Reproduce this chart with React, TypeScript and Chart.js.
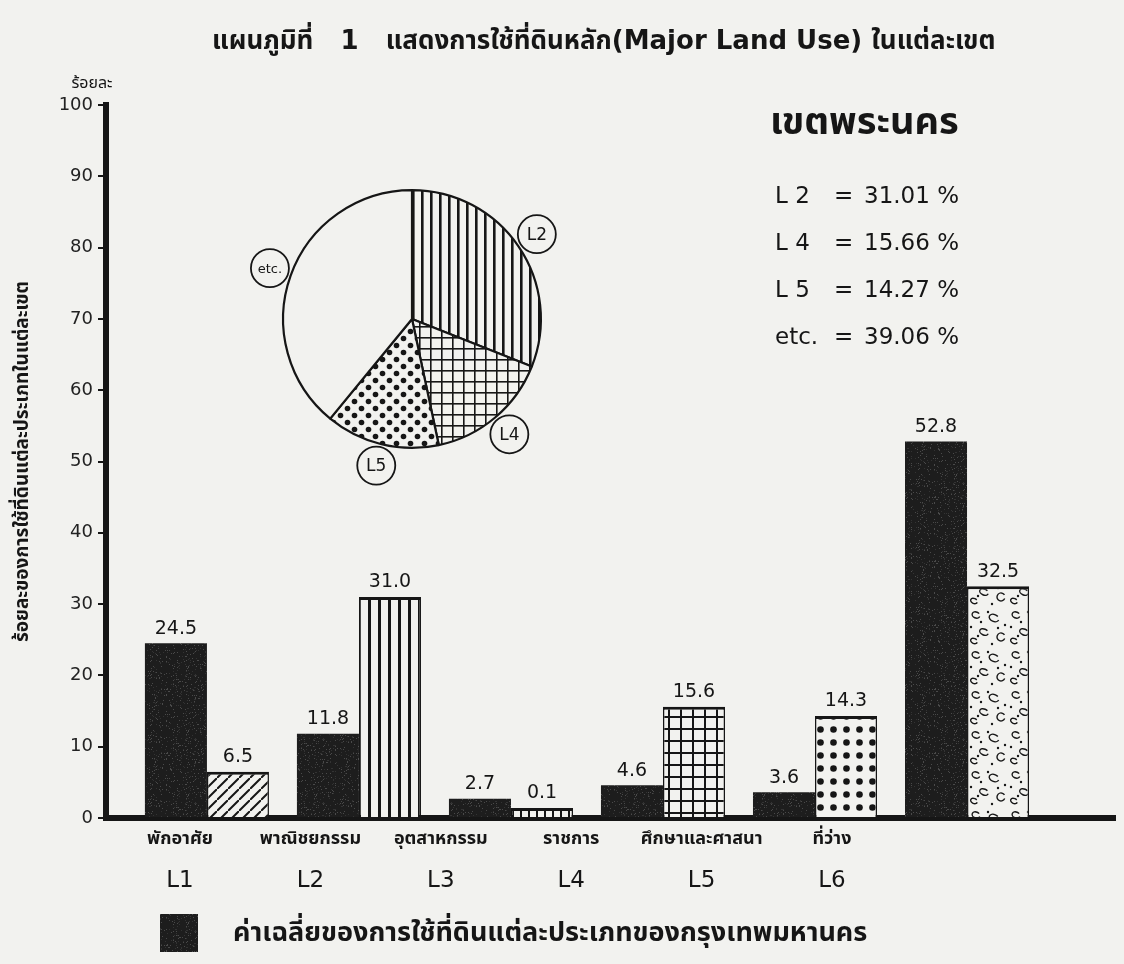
import React, { useEffect, useRef } from 'react';
import { Chart, registerables } from 'chart.js';

Chart.register(...registerables);

// ---------- data ----------
const categories = ['พักอาศัย', 'พาณิชยกรรม', 'อุตสาหกรรม', 'ราชการ', 'ศึกษาและศาสนา', 'ที่ว่าง'];
const codes = ['L1', 'L2', 'L3', 'L4', 'L5', 'L6'];
const bangkokAverage = [24.5, 11.8, 2.7, 4.6, 3.6, 52.8];
const phraNakhon = [6.5, 31.0, 0.1, 15.6, 14.3, 32.5];
const pieLabels = ['L2', 'L4', 'L5', 'etc.'];
const pieValues = [31.01, 15.66, 14.27, 39.06];

const titleText = 'แผนภูมิที่   1   แสดงการใช้ที่ดินหลัก(Major Land Use) ในแต่ละเขต';
const districtName = 'เขตพระนคร';
const yUnit = 'ร้อยละ';
const yTitle = 'ร้อยละของการใช้ที่ดินแต่ละประเภทในแต่ละเขต';
const legendText = 'ค่าเฉลี่ยของการใช้ที่ดินแต่ละประเภทของกรุงเทพมหานคร';

// ---------- style ----------
const INK = '#161616';
const PAPER = '#f2f2ef';
const FONT = "'DejaVu Sans', 'Noto Sans Thai', 'Noto Sans', sans-serif";

function tile(w: number, h: number, draw: (g: CanvasRenderingContext2D) => void, bg = PAPER) {
  const c = document.createElement('canvas');
  c.width = w;
  c.height = h;
  const g = c.getContext('2d')!;
  g.fillStyle = bg;
  g.fillRect(0, 0, w, h);
  g.strokeStyle = INK;
  g.fillStyle = INK;
  draw(g);
  return g.createPattern(c, 'repeat')!;
}

function makePatterns() {
  let seed = 12345;
  const lcg = () => {
    seed = (seed * 1103515245 + 12345) % 2147483648;
    return seed / 2147483648;
  };
  const dark = tile(64, 64, (g) => {
    for (let i = 0; i < 420; i++) {
      const x = Math.floor(lcg() * 64);
      const y = Math.floor(lcg() * 64);
      g.fillStyle = lcg() > 0.5 ? '#4a4a4a' : '#333333';
      g.fillRect(x, y, 1, 1);
    }
  }, '#1d1d1d');
  const hatch = tile(11, 11, (g) => {
    g.lineWidth = 2;
    g.beginPath();
    g.moveTo(-2, 13); g.lineTo(13, -2);
    g.moveTo(-8, 7); g.lineTo(7, -8);
    g.moveTo(4, 19); g.lineTo(19, 4);
    g.stroke();
  });
  const vstripe = tile(10, 10, (g) => { g.fillRect(0, 0, 3, 10); });
  const vstripePie = tile(9, 9, (g) => { g.fillRect(0, 0, 2.6, 9); });
  const ladder = tile(8, 8, (g) => { g.fillRect(0, 0, 2, 8); });
  const grid = tile(12, 12, (g) => { g.fillRect(0, 0, 12, 2); g.fillRect(0, 0, 2, 12); });
  const gridPie = tile(11, 11, (g) => { g.fillRect(0, 0, 11, 1.6); g.fillRect(0, 0, 1.6, 11); });
  const dots = tile(13, 13, (g) => { g.beginPath(); g.arc(6.5, 6.5, 3.3, 0, Math.PI * 2); g.fill(); });
  const dotsPie = tile(14, 14, (g) => {
    g.beginPath(); g.arc(3.5, 3.5, 2.8, 0, Math.PI * 2); g.fill();
    g.beginPath(); g.arc(10.5, 10.5, 2.8, 0, Math.PI * 2); g.fill();
  });
  const leopard = tile(40, 40, (g) => {
    g.lineWidth = 1.4;
    const rings = [[8, 7, 4, 3], [26, 10, 5, 3.5], [16, 24, 4.5, 3], [33, 29, 4, 4], [6, 33, 3.5, 2.5]];
    rings.forEach(([x, y, rx, ry]) => {
      g.beginPath(); g.ellipse(x, y, rx, ry, 0.4, 0, Math.PI * 1.7); g.stroke();
    });
    const ds = [[20, 4], [37, 17], [3, 19], [24, 36], [13, 14], [30, 20], [10, 28]];
    ds.forEach(([x, y]) => { g.beginPath(); g.arc(x, y, 1.2, 0, Math.PI * 2); g.fill(); });
  });
  return { dark, hatch, vstripe, vstripePie, ladder, grid, gridPie, dots, dotsPie, leopard };
}

const unitTicks = (scale: any) => {
  scale.ticks = codes.map((_, i) => ({ value: i + 1 }));
};

export default function App() {
  const barRef = useRef<HTMLCanvasElement>(null);
  const pieRef = useRef<HTMLCanvasElement>(null);

  useEffect(() => {
    document.body.style.background = PAPER;
    Chart.defaults.font.family = FONT;
    const P = makePatterns();

    const backgroundPlugin = {
      id: 'paper',
      beforeDraw(chart: any) {
        const { ctx, width, height } = chart;
        ctx.save();
        ctx.fillStyle = PAPER;
        ctx.fillRect(0, 0, width, height);
        ctx.restore();
      },
    };

    const valueLabels = {
      id: 'valueLabels',
      afterDatasetsDraw(chart: any) {
        const ctx = chart.ctx;
        ctx.save();
        ctx.fillStyle = INK;
        ctx.font = `19px ${FONT}`;
        ctx.textAlign = 'center';
        ctx.textBaseline = 'bottom';
        chart.data.datasets.forEach((ds: any, di: number) => {
          const meta = chart.getDatasetMeta(di);
          meta.data.forEach((el: any, i: number) => {
            const v = ds.data[i].y;
            ctx.fillText(v.toFixed(1), el.x, el.y - 5);
          });
        });
        ctx.restore();
      },
    };

    const annotations = {
      id: 'annotations',
      afterDraw(chart: any) {
        const ctx = chart.ctx;
        ctx.save();
        ctx.fillStyle = INK;
        ctx.textBaseline = 'middle';
        // title
        ctx.textAlign = 'left';
        ctx.font = `bold 26px ${FONT}`;
        ctx.fillText(titleText, 204, 34);
        // y unit
        ctx.textAlign = 'center';
        ctx.font = `16px ${FONT}`;
        ctx.fillText(yUnit, 84, 76);
        // district
        ctx.textAlign = 'left';
        ctx.font = `bold 38px ${FONT}`;
        ctx.fillText(districtName, 762, 116);
        // pie stats
        ctx.font = `23px ${FONT}`;
        pieLabels.forEach((lab, i) => {
          const y = 189 + i * 47;
          const shown = lab.startsWith('L') ? lab.replace(/^L/, 'L ') : lab;
          ctx.fillText(shown, 767, y);
          ctx.fillText('=', 826, y);
          ctx.fillText(`${pieValues[i].toFixed(2)} %`, 856, y);
        });
        // legend (first dataset only)
        ctx.fillStyle = P.dark;
        ctx.fillRect(152, 906, 38, 38);
        ctx.fillStyle = INK;
        ctx.font = `bold 27px ${FONT}`;
        ctx.fillText(chart.data.datasets[0].label, 225, 926);
        ctx.restore();
      },
    };

    const labelAxis = (weight: number, size: number, bold: boolean, names: string[]) => ({
      type: 'linear',
      position: 'bottom',
      min: 0.4325,
      max: 8.178,
      offset: false,
      weight,
      display: true,
      grid: { display: false, offset: false },
      border: { display: false },
      ticks: {
        autoSkip: false,
        maxRotation: 0,
        color: INK,
        font: { size, weight: bold ? 'bold' : 'normal' },
        callback: (v: any) => names[Math.round(v) - 1] ?? '',
      },
      afterBuildTicks: unitTicks,
      afterFit: (s: any) => { s.height = 38; },
    });

    const bar = new Chart(barRef.current!, {
      type: 'bar',
      data: {
        datasets: [
          {
            label: legendText,
            data: bangkokAverage.map((v, i) => ({ x: i + 1, y: v })),
            backgroundColor: P.dark,
            borderWidth: 0,
            categoryPercentage: 0.816,
            barPercentage: 1,
          },
          {
            label: districtName,
            data: phraNakhon.map((v, i) => ({ x: i + 1, y: v })),
            backgroundColor: [P.hatch, P.vstripe, P.ladder, P.grid, P.dots, P.leopard],
            borderColor: INK,
            borderWidth: { top: 3, left: 1.5, right: 1.5, bottom: 0 },
            borderSkipped: 'bottom',
            minBarLength: 10,
            categoryPercentage: 0.816,
            barPercentage: 1,
          },
        ],
      },
      options: {
        animation: false,
        responsive: false,
        layout: { padding: { top: 97, right: 0, bottom: 62, left: 0 } },
        plugins: {
          legend: { display: false },
          title: { display: false },
          tooltip: { enabled: false },
        },
        scales: {
          x: {
            type: 'linear',
            position: 'bottom',
            min: 0.336,
            max: 6.98,
            offset: false,
            weight: 0,
            grid: { display: false, offset: false },
            border: { display: true, width: 6, color: INK },
            ticks: { display: false },
            afterBuildTicks: unitTicks,
            afterFit: (s: any) => { s.height = 0; },
          },
          xName: labelAxis(1, 18, true, categories),
          xCode: labelAxis(2, 23, false, codes),
          y: {
            min: 0,
            max: 100,
            ticks: { stepSize: 10, color: '#222', font: { size: 18 }, padding: 5 },
            grid: { drawOnChartArea: false, drawTicks: true, tickLength: 8, color: INK, lineWidth: 2 },
            border: { display: true, width: 6, color: INK },
            title: { display: true, text: yTitle, color: INK, font: { size: 19, weight: 'bold' } },
            afterFit: (s: any) => { s.width = 98; },
          },
        },
      },
      plugins: [backgroundPlugin, valueLabels, annotations],
    } as any);

    const callouts = {
      id: 'callouts',
      afterDatasetsDraw(chart: any) {
        const ctx = chart.ctx;
        const meta = chart.getDatasetMeta(0);
        ctx.save();
        meta.data.forEach((arc: any, i: number) => {
          const p = arc.getProps(['x', 'y', 'startAngle', 'endAngle', 'outerRadius'], true);
          const mid = (p.startAngle + p.endAngle) / 2;
          const d = p.outerRadius + 22;
          const cx = p.x + Math.cos(mid) * d;
          const cy = p.y + Math.sin(mid) * d;
          ctx.beginPath();
          ctx.arc(cx, cy, 19, 0, Math.PI * 2);
          ctx.fillStyle = PAPER;
          ctx.fill();
          ctx.lineWidth = 1.8;
          ctx.strokeStyle = INK;
          ctx.stroke();
          ctx.fillStyle = INK;
          const lab = chart.data.labels[i];
          ctx.font = `${lab.length > 2 ? 13 : 17}px ${FONT}`;
          ctx.textAlign = 'center';
          ctx.textBaseline = 'middle';
          ctx.fillText(lab, cx, cy + 1);
        });
        ctx.restore();
      },
    };

    const pie = new Chart(pieRef.current!, {
      type: 'pie',
      data: {
        labels: pieLabels,
        datasets: [
          {
            data: pieValues,
            backgroundColor: [P.vstripePie, P.gridPie, P.dotsPie, PAPER],
            borderColor: INK,
            borderWidth: 2.2,
          },
        ],
      },
      options: {
        animation: false,
        responsive: false,
        layout: { padding: 50 },
        plugins: { legend: { display: false }, tooltip: { enabled: false } },
      },
      plugins: [callouts],
    } as any);

    return () => {
      bar.destroy();
      pie.destroy();
    };
  }, []);

  return (
    <div style={{ position: 'relative', width: 1108, height: 948, background: PAPER }}>
      <canvas ref={barRef} width={1108} height={948} style={{ position: 'absolute', left: 0, top: 0 }} />
      <canvas ref={pieRef} width={360} height={360} style={{ position: 'absolute', left: 224, top: 131 }} />
    </div>
  );
}
